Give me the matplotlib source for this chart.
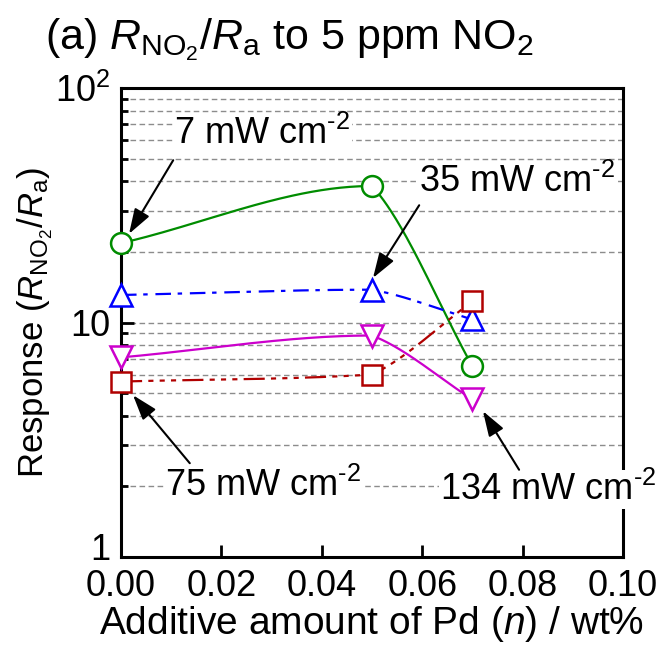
import numpy as np
import matplotlib
matplotlib.use("Agg")
import matplotlib.pyplot as plt
from matplotlib.ticker import FixedLocator, FixedFormatter, NullFormatter
from matplotlib.transforms import offset_copy

plt.rcParams['font.family'] = ['Liberation Sans', 'DejaVu Sans']
plt.rcParams['mathtext.fontset'] = 'custom'
plt.rcParams['mathtext.rm'] = 'Liberation Sans'
plt.rcParams['mathtext.it'] = 'Liberation Sans:italic'
plt.rcParams['mathtext.bf'] = 'Liberation Sans:bold'

# ---- data ----
pd_amount = [0.0, 0.05, 0.07]
resp_7mW = [21.8, 38.2, 6.5]
resp_35mW = [13.1, 13.8, 10.3]
resp_75mW = [5.6, 6.0, 12.3]
resp_134mW = [7.1, 8.8, 4.7]
series_labels = ["7 mW cm$^{\\text{-2}}$", "35 mW cm$^{\\text{-2}}$",
                 "75 mW cm$^{\\text{-2}}$", "134 mW cm$^{\\text{-2}}$"]
x_ticks = [0.0, 0.02, 0.04, 0.06, 0.08, 0.10]
x_ticklabels = ["0.00", "0.02", "0.04", "0.06", "0.08", "0.10"]
y_ticks = [1, 10, 100]
y_ticklabels = ["1", "10", "10$^2$"]

fig = plt.figure(figsize=(6.7, 6.47), dpi=100)
ax = fig.add_axes([121/670, 1-557/647, 502/670, 469/647])
ax.set_xlim(0, 0.1)
ax.set_yscale('log')
ax.set_ylim(1, 100)

W, H = 502.0, 469.0


def smooth(xs, ys, n=80):
    # piecewise cubic Hermite (monotone-style tangents) in screen-proportional space
    xs = np.asarray(xs, float); ys = np.asarray(ys, float)
    u = xs / 0.1 * W
    v = np.log10(ys) / 2.0 * H
    m = len(u)
    h = np.diff(u); d = np.diff(v) / h
    tin = np.zeros(m); tout = np.zeros(m)
    tin[0] = tout[0] = d[0]
    tin[-1] = tout[-1] = d[-1]
    for i in range(1, m - 1):
        if d[i-1] * d[i] <= 0:
            t = 0.0
        else:
            w1 = 2*h[i] + h[i-1]; w2 = h[i] + 2*h[i-1]
            t = (w1 + w2) / (w1 / d[i-1] + w2 / d[i])
        tin[i] = t
        tout[i] = 0.6 * d[i] + 0.4 * t
    U, V = [u[0]], [v[0]]
    for i in range(m - 1):
        s = np.linspace(0, 1, n)[1:]
        h00 = 2*s**3 - 3*s**2 + 1; h10 = s**3 - 2*s**2 + s
        h01 = -2*s**3 + 3*s**2; h11 = s**3 - s**2
        U.extend(u[i] + s * h[i])
        V.extend(h00*v[i] + h10*h[i]*tout[i] + h01*v[i+1] + h11*h[i]*tin[i+1])
    U = np.array(U); V = np.array(V)
    return U / W * 0.1, 10 ** (V / H * 2.0)

lw = 1.6
green = '#008c00'; blue = '#0000ff'; red = '#b00000'; mag = '#cc00cc'

sx, sy = smooth(pd_amount, resp_7mW)
ax.plot(sx, sy, color=green, lw=lw, zorder=3)
sx, sy = smooth(pd_amount, resp_35mW)
ax.plot(sx, sy, color=blue, lw=lw, dashes=(7, 3, 2, 3.5), zorder=3)
sx, sy = smooth(pd_amount, resp_75mW)
ax.plot(sx, sy, color=red, lw=lw, dashes=(9.5, 2.8, 2.3, 2.8, 2.3, 2.8, 2.3, 2.8), zorder=3)
sx, sy = smooth(pd_amount, resp_134mW)
ax.plot(sx, sy, color=mag, lw=lw, zorder=3)

ms = 15
mew = 1.8
ax.plot(pd_amount, resp_7mW, 'o', ms=ms, mfc='white', mec=green, mew=mew, zorder=5, clip_on=False)
ax.plot(pd_amount, resp_35mW, '^', ms=ms+1, mfc='white', mec=blue, mew=mew, zorder=5, clip_on=False)
ax.plot(pd_amount, resp_75mW, 's', ms=ms-1, mfc='white', mec=red, mew=mew, zorder=5, clip_on=False)
ax.plot(pd_amount, resp_134mW, 'v', ms=ms+1, mfc='white', mec=mag, mew=mew, zorder=5, clip_on=False)

# grid at all decade subdivisions
grid_vals = [v * d for d in (1, 10) for v in range(2, 10)] + [10]
for g in grid_vals:
    ax.axhline(g, color='#8c8c8c', lw=1.0, dashes=(4, 2.5), zorder=1)

ax.xaxis.set_major_locator(FixedLocator(x_ticks))
ax.xaxis.set_major_formatter(FixedFormatter(x_ticklabels))
ax.yaxis.set_major_locator(FixedLocator(y_ticks))
# the bottom label "1" is drawn separately (baseline-aligned) so it clears the x labels
ax.yaxis.set_major_formatter(FixedFormatter([""] + y_ticklabels[1:]))
ax.yaxis.set_minor_locator(FixedLocator([v * d for d in (1, 10) for v in range(2, 10)]))
ax.yaxis.set_minor_formatter(NullFormatter())
ax.tick_params(axis='both', which='major', direction='in', length=9, width=2,
               labelsize=26, top=False, right=False)
ax.tick_params(axis='x', which='major', pad=9)
ax.tick_params(axis='y', which='major', pad=8)
ax.tick_params(axis='y', which='minor', direction='in', length=5, width=2, right=False)
ax.tick_params(axis='x', which='minor', bottom=False, top=False)
for s in ax.spines.values():
    s.set_linewidth(2.2)

one_tr = offset_copy(ax.get_yaxis_transform(), fig=fig, x=-8, y=-2, units='points')
ax.text(0, y_ticks[0], y_ticklabels[0], transform=one_tr, fontsize=26, ha='right', va='baseline')

ax.set_xlabel("Additive amount of Pd ($\\it{n}$) / wt%", fontsize=28, labelpad=0)
ax.set_ylabel("Response ($\\it{R}_{\\mathrm{NO_2}}$/$\\it{R}_{\\mathrm{a}}$)", fontsize=25, labelpad=0)
fig.text(45/670, 1-40/647, "(a) $\\it{R}_{\\mathrm{NO_2}}$/$\\it{R}_{\\mathrm{a}}$ to 5 ppm NO$_2$",
         fontsize=31, ha='left', va='center')

bbox = dict(facecolor='white', edgecolor='none', pad=1)
texts = [(0.281, 0.902), (0.789, 0.800), (0.283, 0.151), (0.851, 0.143)]
tails = [(0.104, 0.846), (0.594, 0.750), (0.137, 0.200), (0.793, 0.186)]
tips = [(0.016, 0.689), (0.502, 0.595), (0.024, 0.345), (0.721, 0.311)]
for lab, tp, tl, tip in zip(series_labels, texts, tails, tips):
    ax.text(tp[0], tp[1], lab, transform=ax.transAxes, fontsize=26, ha='center', va='center',
            bbox=bbox, zorder=6, clip_on=False)
    ax.annotate('', xy=tip, xycoords='axes fraction', xytext=tl, textcoords='axes fraction',
                arrowprops=dict(arrowstyle='-|>,head_length=0.9,head_width=0.3', color='black',
                                lw=1.5, mutation_scale=17, shrinkA=0, shrinkB=0), zorder=7)

fig.savefig('out.png', dpi=100)
